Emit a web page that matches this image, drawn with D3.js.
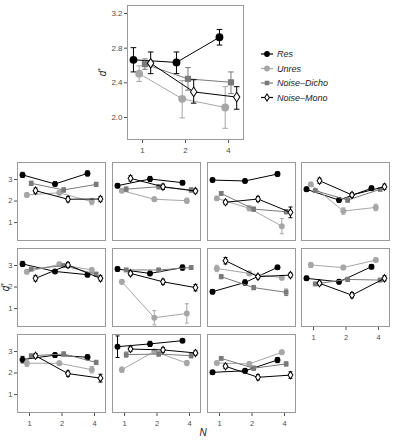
<!DOCTYPE html>
<html><head><meta charset="utf-8">
<script src="https://cdn.jsdelivr.net/npm/d3@7"></script>
<style>body{margin:0;background:#fff} svg{display:block;font-family:"Liberation Sans",Arial,sans-serif}</style>
</head><body><svg id="c" width="394" height="441"></svg>
<script>
// ---------- data ----------
const nLevels = [1, 2, 4];
const seriesNames = ["Res", "Unres", "Noise–Dicho", "Noise–Mono"];
const topTicksY = [2.0, 2.4, 2.8, 3.2];
const panelTicksY = [1, 2, 3];

// top panel (group means) : [N=1, N=2, N=4]
const topRes   = [2.66, 2.63, 2.92];
const topUnres = [2.50, 2.21, 2.11];
const topDicho = [2.61, 2.44, 2.40];
const topMono  = [2.62, 2.29, 2.23];
const topResLo   = [2.52, 2.50, 2.83], topResHi   = [2.80, 2.75, 3.01];
const topUnresLo = [2.41, 1.99, 1.87], topUnresHi = [2.59, 2.42, 2.35];
const topDichoLo = [2.55, 2.31, 2.27], topDichoHi = [2.67, 2.57, 2.52];
const topMonoLo  = [2.50, 2.16, 2.09], topMonoHi  = [2.75, 2.43, 2.35];

// individual panels (11), each [N=1, N=2, N=4]
const panelRes = [
  [3.19, 2.77, 3.26], [2.69, 3.00, 2.83], [2.95, 2.91, 3.23], [2.52, 2.02, 2.57],
  [3.05, 2.70, 2.55], [2.81, 2.61, 2.88], [1.76, 2.19, 2.89], [2.38, 2.22, 2.92],
  [2.60, 2.81, 2.71], [3.20, 3.33, 3.48], [2.01, 2.08, 2.58]];
const panelUnres = [
  [2.26, 2.36, 1.95], [2.46, 2.06, 1.99], [2.10, 1.64, 0.81], [2.75, 1.51, 1.68],
  [2.69, 3.03, 2.77], [2.22, 0.55, 0.75], [2.84, 2.61, 2.41], [3.00, 2.88, 3.23],
  [2.43, 2.43, 2.13], [2.13, 2.98, 2.44], [2.44, 2.40, 2.94]];
const panelDicho = [
  [2.80, 2.49, 2.75], [2.53, 2.64, 2.49], [2.33, 1.60, 1.48], [2.46, 2.02, 2.52],
  [2.81, 2.97, 2.57], [2.77, 2.77, 2.88], [2.46, 1.95, 1.73], [2.12, 2.33, 2.30],
  [2.78, 2.86, 2.47], [2.83, 2.86, 2.78], [2.66, 2.20, 2.40]];
const panelMono = [
  [2.46, 2.06, 2.07], [3.03, 2.64, 2.44], [1.92, 2.07, 1.45], [2.92, 2.26, 2.64],
  [2.38, 3.00, 2.38], [2.61, 2.22, 1.95], [3.20, 2.46, 2.53], [2.15, 1.60, 2.38],
  [2.78, 1.95, 1.74], [3.09, 3.05, 2.91], [2.29, 1.78, 1.88]];
const panelResErr = [
  [0.12, 0.10, 0.12], [0.10, 0.12, 0.10], [0.08, 0.08, 0.10], [0.10, 0.10, 0.10],
  [0.12, 0.08, 0.10], [0.10, 0.10, 0.12], [0.10, 0.12, 0.10], [0.10, 0.10, 0.10],
  [0.15, 0.10, 0.12], [0.50, 0.12, 0.08], [0.08, 0.10, 0.12]];
const panelUnresErr = [
  [0.10, 0.10, 0.15], [0.10, 0.10, 0.12], [0.10, 0.12, 0.35], [0.10, 0.15, 0.15],
  [0.10, 0.10, 0.10], [0.10, 0.33, 0.45], [0.15, 0.10, 0.10], [0.12, 0.10, 0.08],
  [0.15, 0.10, 0.15], [0.12, 0.10, 0.12], [0.08, 0.10, 0.10]];
const panelDichoErr = [
  [0.10, 0.10, 0.10], [0.10, 0.10, 0.10], [0.08, 0.10, 0.10], [0.08, 0.10, 0.08],
  [0.08, 0.08, 0.10], [0.08, 0.08, 0.08], [0.10, 0.10, 0.15], [0.08, 0.10, 0.08],
  [0.08, 0.10, 0.10], [0.12, 0.10, 0.10], [0.08, 0.10, 0.10]];
const panelMonoErr = [
  [0.12, 0.12, 0.12], [0.12, 0.12, 0.10], [0.10, 0.12, 0.25], [0.12, 0.10, 0.12],
  [0.12, 0.12, 0.12], [0.10, 0.12, 0.15], [0.15, 0.10, 0.10], [0.10, 0.12, 0.12],
  [0.10, 0.12, 0.18], [0.10, 0.10, 0.10], [0.10, 0.12, 0.15]];

// ---------- styles ----------
const lineCol = ["#000000", "#a6a6a6", "#7a7a7a", "#000000"];
const fillCol = ["#000000", "#a6a6a6", "#7a7a7a", "#ffffff"];
const symTypes = [d3.symbolCircle, d3.symbolCircle, d3.symbolSquare, d3.symbolDiamond];
const dodge = [-0.2, -0.067, 0.067, 0.2];
const borderCol = "#9a9a9a";
const tickCol = "#4d4d4d";

const svg = d3.select("#c");

function symArea(si, size) {
  if (si === 3) return size * 0.55;
  if (si === 2) return size * 0.8;
  return size;
}

function drawPanel(g, x, y, series, opts) {
  series.forEach((s, si) => {
    const pts = s.mean.map((v, i) => ({v, lo: s.lo[i], hi: s.hi[i], xp: x(Math.log2(nLevels[i]) + dodge[si])}));
    g.append("path")
      .attr("d", d3.line().x(d => d.xp).y(d => y(d.v))(pts))
      .attr("fill", "none").attr("stroke", lineCol[si]).attr("stroke-width", 1);
    pts.forEach(p => {
      g.append("line").attr("x1", p.xp).attr("x2", p.xp).attr("y1", y(p.lo)).attr("y2", y(p.hi))
        .attr("stroke", lineCol[si]).attr("stroke-width", 1);
      [p.lo, p.hi].forEach(e => g.append("line")
        .attr("x1", p.xp - opts.cap).attr("x2", p.xp + opts.cap).attr("y1", y(e)).attr("y2", y(e))
        .attr("stroke", lineCol[si]).attr("stroke-width", 1));
    });
    pts.forEach(p => {
      g.append("path")
        .attr("d", d3.symbol().type(symTypes[si]).size(symArea(si, opts.size))())
        .attr("transform", `translate(${p.xp},${y(p.v)})` + (si === 3 ? " scale(1.15,1)" : ""))
        .attr("fill", fillCol[si])
        .attr("stroke", si === 3 ? "#000" : "none").attr("stroke-width", 0.9);
    });
  });
}

function frame(g, x0, y0, w, h) {
  g.append("rect").attr("x", x0 + 0.5).attr("y", y0 + 0.5).attr("width", w - 1).attr("height", h - 1)
    .attr("fill", "none").attr("stroke", borderCol).attr("stroke-width", 1);
}

function xAxis(g, x, yPos, fs) {
  const ax = d3.axisBottom(x).tickValues(nLevels.map(n => Math.log2(n))).tickFormat(v => String(Math.pow(2, v)))
    .tickSize(3).tickSizeOuter(0);
  const a = g.append("g").attr("transform", `translate(0,${yPos})`).call(ax);
  a.select(".domain").remove();
  a.selectAll("line").attr("stroke", tickCol);
  a.selectAll("text").attr("fill", tickCol).attr("font-size", fs).attr("dy", "0.9em");
}
function yAxis(g, y, xPos, ticks, fmt, fs) {
  const ax = d3.axisLeft(y).tickValues(ticks).tickFormat(fmt).tickSize(3).tickSizeOuter(0);
  const a = g.append("g").attr("transform", `translate(${xPos},0)`).call(ax);
  a.select(".domain").remove();
  a.selectAll("line").attr("stroke", tickCol);
  a.selectAll("text").attr("fill", tickCol).attr("font-size", fs).attr("x", -4.5);
}

// ---------- top panel ----------
{
  const L = 127, R = 244, T = 5, B = 140;
  const x = d3.scaleLinear().domain([-0.35, 2.37]).range([L, R]);
  const y = d3.scaleLinear().domain([1.735, 3.292]).range([B, T]);
  const g = svg.append("g");
  frame(g, L, T, R - L, B - T);
  yAxis(g, y, L, topTicksY, d3.format(".1f"), 8);
  xAxis(g, x, B, 8);
  const series = [
    {mean: topRes, lo: topResLo, hi: topResHi},
    {mean: topUnres, lo: topUnresLo, hi: topUnresHi},
    {mean: topDicho, lo: topDichoLo, hi: topDichoHi},
    {mean: topMono, lo: topMonoLo, hi: topMonoHi}];
  drawPanel(g, x, y, series, {cap: 2.8, size: 48});
  g.append("text").attr("transform", `translate(106,${(T + B) / 2}) rotate(-90)`)
    .attr("text-anchor", "middle").attr("font-size", 10).attr("font-style", "italic").attr("fill", "#222").text("d'");

  // legend
  const lg = svg.append("g");
  seriesNames.forEach((name, si) => {
    const ly = 54 + si * 14.5;
    lg.append("line").attr("x1", 261).attr("x2", 273).attr("y1", ly).attr("y2", ly)
      .attr("stroke", lineCol[si]).attr("stroke-width", 1.2);
    lg.append("path").attr("d", d3.symbol().type(symTypes[si]).size(symArea(si, 26))())
      .attr("transform", `translate(267,${ly})` + (si === 3 ? " scale(1.15,1)" : ""))
      .attr("fill", fillCol[si]).attr("stroke", si === 3 ? "#000" : "none").attr("stroke-width", 0.9);
    lg.append("text").attr("x", 277).attr("y", ly).attr("dy", "0.35em")
      .attr("font-size", 9).attr("font-style", "italic").attr("fill", "#222").text(name);
  });
}

// ---------- small multiples ----------
{
  const colLeft = [17, 112, 207, 301];
  const rowTop = [162, 248, 334];
  const W = 89, H = 79;
  for (let p = 0; p < panelRes.length; p++) {
    const r = Math.floor(p / 4), c = p % 4;
    const L = colLeft[c], T = rowTop[r];
    const x = d3.scaleLinear().domain([-0.37, 2.37]).range([L, L + W]);
    const y = d3.scaleLinear().domain([0.12, 3.79]).range([T + H, T]);
    const g = svg.append("g");
    frame(g, L, T, W, H);
    if (c === 0) yAxis(g, y, L, panelTicksY, d3.format("d"), 7.5);
    if (r === 2 || p === 7) xAxis(g, x, T + H, 7.5);
    const mk = (m, e) => ({mean: m[p], lo: m[p].map((v, i) => v - e[p][i]), hi: m[p].map((v, i) => v + e[p][i])});
    const series = [mk(panelRes, panelResErr), mk(panelUnres, panelUnresErr), mk(panelDicho, panelDichoErr), mk(panelMono, panelMonoErr)];
    drawPanel(g, x, y, series, {cap: 2, size: 28});
  }
  svg.append("text").attr("transform", `translate(9,${(162 + 413) / 2}) rotate(-90)`)
    .attr("text-anchor", "middle").attr("font-size", 10).attr("font-style", "italic").attr("fill", "#222").text("d'");
  svg.append("text").attr("x", 203).attr("y", 436).attr("text-anchor", "middle")
    .attr("font-size", 10).attr("font-style", "italic").attr("fill", "#222").text("N");
}
</script></body></html>
